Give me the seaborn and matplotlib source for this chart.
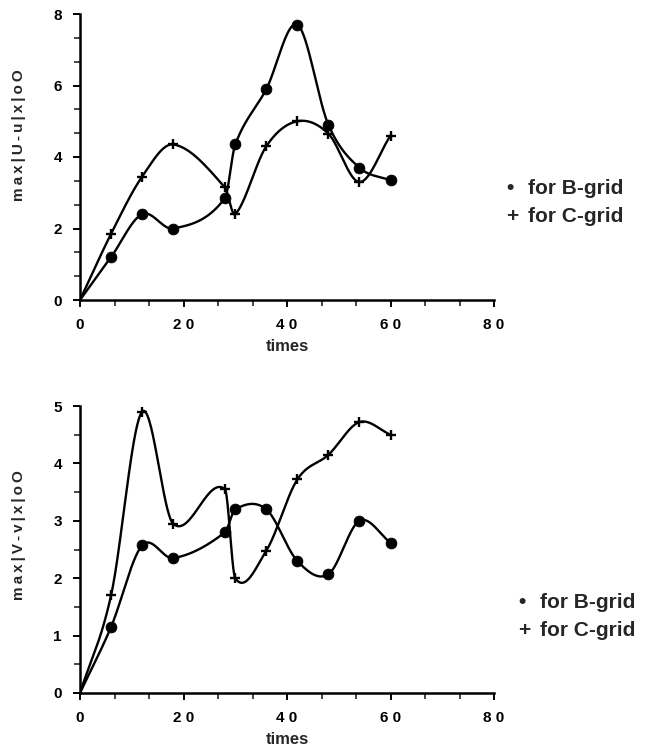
import numpy as np
import matplotlib
matplotlib.use("Agg")
import matplotlib.pyplot as plt
import seaborn as sns
from matplotlib.ticker import MultipleLocator

sns.set_style("white")
plt.rcParams['font.family'] = ['Liberation Sans', 'DejaVu Sans']

times = [0, 6, 12, 18, 28, 30, 36, 42, 48, 54, 60]
u_bgrid = [0.0, 1.2, 2.4, 2.0, 2.85, 4.35, 5.9, 7.7, 4.9, 3.7, 3.35]
u_cgrid = [0.0, 1.85, 3.45, 4.35, 3.15, 2.4, 4.3, 5.0, 4.65, 3.3, 4.6]
v_bgrid = [0.0, 1.15, 2.57, 2.35, 2.8, 3.2, 3.2, 2.3, 2.07, 3.0, 2.62]
v_cgrid = [0.0, 1.7, 4.9, 2.95, 3.55, 2.0, 2.48, 3.72, 4.15, 4.72, 4.5]

x_ticks = [0, 20, 40, 60, 80]
x_tick_labels = ["0", "2 0", "4 0", "6 0", "8 0"]
ts = "\u2009"
top_ylabel = ts.join("max|U-u|x|oO")
bot_ylabel = ts.join("max|V-v|x|oO")
xlabel = "times"
legend_b = "for B-grid"
legend_c = "for C-grid"

W, H = 648, 753


def smooth(x, y, n=60):
    """Cubic Hermite (Catmull-Rom style) curve, used only to draw a smooth line through the points."""
    x = np.asarray(x, float); y = np.asarray(y, float)
    m = np.zeros_like(y)
    m[0] = (y[1] - y[0]) / (x[1] - x[0])
    m[-1] = (y[-1] - y[-2]) / (x[-1] - x[-2])
    m[1:-1] = (y[2:] - y[:-2]) / (x[2:] - x[:-2])
    xs_all, ys_all = [], []
    for i in range(len(x) - 1):
        h = x[i + 1] - x[i]
        t = np.linspace(0, 1, n)
        h00 = 2 * t**3 - 3 * t**2 + 1
        h10 = t**3 - 2 * t**2 + t
        h01 = -2 * t**3 + 3 * t**2
        h11 = t**3 - t**2
        xs_all.append(x[i] + t * h)
        ys_all.append(h00 * y[i] + h10 * h * m[i] + h01 * y[i + 1] + h11 * h * m[i + 1])
    return np.concatenate(xs_all), np.concatenate(ys_all)


def fx(px):
    return px / W


def fy(py):
    return 1 - py / H


fig = plt.figure(figsize=(6.48, 7.53), dpi=100)
ax1 = fig.add_axes([fx(80), fy(300), fx(494) - fx(80), fy(14) - fy(300)])
ax2 = fig.add_axes([fx(80), fy(693), fx(494) - fx(80), fy(406) - fy(693)])

panels = [(ax1, u_bgrid, u_cgrid, top_ylabel, 8, 2, 2 / 3, 0.575),
          (ax2, v_bgrid, v_cgrid, bot_ylabel, 5, 1, 0.5, 0.55)]

for ax, yb, yc, ylab, ymax, ymaj, ymin, ylabpos in panels:
    for yy in (yb, yc):
        xs, ys = smooth(times, yy)
        sns.lineplot(x=xs, y=ys, ax=ax, color='black', lw=1.7, sort=False, estimator=None)
    sns.scatterplot(x=times[1:], y=yb[1:], ax=ax, marker='o', s=60, color='black', edgecolor='black', zorder=5)
    sns.scatterplot(x=times[1:], y=yc[1:], ax=ax, marker='+', s=60, color='black', linewidth=1.7, zorder=5)
    ax.set_xlim(0, 80)
    ax.set_ylim(0, ymax)
    ax.set_xticks(x_ticks)
    ax.set_xticklabels(x_tick_labels)
    ax.xaxis.set_minor_locator(MultipleLocator(20 / 3))
    ax.yaxis.set_major_locator(MultipleLocator(ymaj))
    ax.yaxis.set_minor_locator(MultipleLocator(ymin))
    for s in ['top', 'right']:
        ax.spines[s].set_visible(False)
    for s in ['left', 'bottom']:
        ax.spines[s].set_linewidth(1.8)
        ax.spines[s].set_color('black')
    ax.tick_params(which='major', direction='out', length=5, width=1.4, labelsize=11, colors='black')
    ax.tick_params(axis='x', which='major', pad=8)
    ax.tick_params(axis='y', which='major', pad=8)
    ax.tick_params(which='minor', direction='out', length=4, width=1.2)
    ax.tick_params(axis='both', which='both', bottom=True, left=True)
    ax.set_xlabel(xlabel, fontsize=12, fontweight='bold', labelpad=5)
    ax.set_ylabel(ylab, fontsize=11, fontweight='bold', va='center')
    ax.yaxis.set_label_coords((19 - 80) / 414, ylabpos)
    ax.set_facecolor('white')
    for lab in ax.get_xticklabels() + ax.get_yticklabels():
        lab.set_fontweight('bold')

legend_rows = [((510, 528), 188, 217), ((522, 540), 603, 630)]
for (mx, tx), yb_, yc_ in legend_rows:
    fig.text(fx(mx), fy(yb_), "\u2022", fontsize=15, fontweight='bold', va='center', ha='center')
    fig.text(fx(tx), fy(yb_), legend_b, fontsize=15, fontweight='bold', va='center', ha='left')
    fig.text(fx(mx + 2), fy(yc_), "+", fontsize=15, fontweight='bold', va='center', ha='center')
    fig.text(fx(tx), fy(yc_), legend_c, fontsize=15, fontweight='bold', va='center', ha='left')

fig.savefig("out.png", dpi=100, facecolor='white')
